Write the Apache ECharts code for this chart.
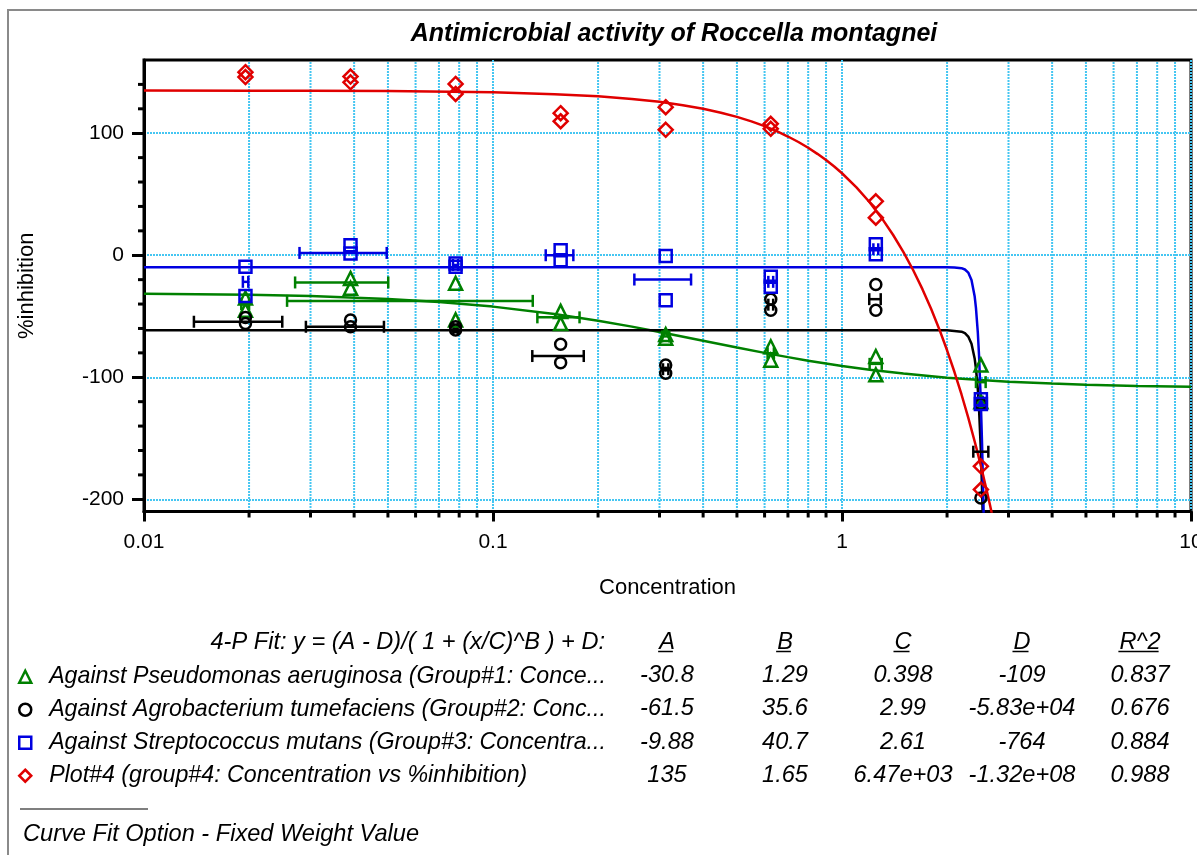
<!DOCTYPE html>
<html><head><meta charset="utf-8">
<script src="https://cdn.jsdelivr.net/npm/echarts@6/dist/echarts.min.js"></script>
<style>html,body{margin:0;padding:0;background:#fff}#c{width:1197px;height:855px}</style>
</head><body><div id="c"></div>
<script>
// ---------------- data ----------------
const concentrations = [0.01953, 0.03906, 0.07813, 0.15625, 0.3125, 0.625, 1.25, 2.5];
const pseudoRep1 = [-35, -19, -23, -46, -65, -75, -83, -90];
const pseudoRep2 = [-45, -27, -53, -56, -68, -86, -98, -120];
const agroRep1 = [-51, -53, -58.6, -73, -90, -36, -24, -122];
const agroRep2 = [-56, -58.6, -61.3, -88, -96.7, -45, -45, -199];
const strepRep1 = [-9.5, 8.2, -6.8, 4.1, -0.6, -17.7, 9, -118];
const strepRep2 = [-33.3, 1.4, -9.5, -4.1, -36.8, -25.9, 0.8, -122];
const plot4Rep1 = [150, 146.4, 140.4, 116.4, 121.3, 107.7, 44.2, -173];
const plot4Rep2 = [146, 141.7, 132.2, 109.8, 102.8, 103.6, 30.8, -192];

// horizontal error bars: [xLow, xHigh, y]
const pseudoErr = [[0.0190, 0.0200, -40], [0.0271, 0.0501, -22.3], [0.0257, 0.130, -37.4], [0.134, 0.177, -50.9],
  [0.305, 0.320, -66.5], [0.612, 0.638, -80.4], [1.20, 1.30, -89], [2.42, 2.58, -104]];
const agroErr = [[0.0139, 0.0249, -54.5], [0.0291, 0.0487, -58.6], [0.0770, 0.0792, -60], [0.1296, 0.182, -82.6],
  [0.307, 0.318, -93.4], [0.615, 0.635, -40.5], [1.197, 1.291, -36], [2.378, 2.626, -161]];
const strepErr = [[0.0192, 0.0199, -21.8], [0.0279, 0.0496, 1.9], [0.0768, 0.0794, -8], [0.1416, 0.1699, 0],
  [0.2541, 0.3694, -19.9], [0.615, 0.635, -21.8], [1.23, 1.27, 4.9], [2.47, 2.53, -120]];

// fitted curves
const fitPseudoX = [0.01, 0.02, 0.03, 0.05, 0.07, 0.1, 0.15, 0.2, 0.25, 0.3, 0.4, 0.5, 0.6, 0.7, 0.8, 1, 1.2, 1.5, 2, 2.5, 3, 4, 5, 7, 10];
const fitPseudoY = [-31.5, -32.4, -33.5, -35.8, -38.3, -42.1, -48.1, -53.6, -58.5, -62.9, -70.0, -75.6, -80.0, -83.5, -86.4, -90.7, -93.8, -97.0, -100.3, -102.3, -103.6, -105.2, -106.1, -107.1, -107.8];
const fitAgroX = [0.01, 1, 2, 2.2, 2.25, 2.3, 2.35, 2.4, 2.42, 2.45, 2.47, 2.5, 2.52, 2.53];
const fitAgroY = [-61.5, -61.5, -61.5, -62.6, -63.8, -66.6, -72.5, -84.8, -92.8, -109.9, -126.1, -160.9, -193.5, -213];
const fitStrepX = [0.01, 1, 2, 2.1, 2.2, 2.25, 2.3, 2.35, 2.4, 2.42, 2.45, 2.47, 2.5, 2.52, 2.54, 2.56];
const fitStrepY = [-9.9, -9.9, -9.9, -10.0, -10.6, -11.7, -14.2, -20.3, -33.9, -43.1, -63.3, -82.2, -121.3, -155.7, -197.3, -245.6];
const fitPlot4X = [0.01, 0.02, 0.03, 0.05, 0.1, 0.15, 0.2, 0.25, 0.3, 0.35, 0.4, 0.45, 0.5, 0.55, 0.6, 0.65, 0.7, 0.75, 0.8, 0.85, 0.9, 0.95, 1.0, 1.1, 1.2, 1.3, 1.4, 1.5, 1.6, 1.7, 1.8, 1.9, 2.0, 2.1, 2.2, 2.3, 2.4, 2.45, 2.5, 2.55, 2.6, 2.65, 2.7];
const fitPlot4Y = [135, 134.9, 134.8, 134.5, 133.5, 132.0, 130.2, 128.1, 125.7, 123.0, 120.0, 116.8, 113.4, 109.7, 105.8, 101.7, 97.3, 92.8, 88.1, 83.1, 78.0, 72.7, 67.2, 55.6, 43.4, 30.4, 16.8, 2.6, -12.3, -27.8, -43.9, -60.6, -77.9, -95.7, -114.1, -133.1, -152.6, -162.6, -172.6, -182.9, -193.2, -203.7, -214.3];

// axes / ticks
const xMin = 0.01, xMax = 10, yMin = -210, yMax = 160;
const xMinorTicks = [0.02, 0.03, 0.04, 0.05, 0.06, 0.07, 0.08, 0.09, 0.2, 0.3, 0.4, 0.5, 0.6, 0.7, 0.8, 0.9, 2, 3, 4, 5, 6, 7, 8, 9];
const yMajorTicks = [-200, -100, 0, 100];
const yMinorTicks = [-180, -160, -140, -120, -80, -60, -40, -20, 20, 40, 60, 80, 120, 140];

// table
const titleText = 'Antimicrobial activity of Roccella montagnei';
const fitLabel = '4-P Fit: y = (A - D)/( 1 + (x/C)^B ) + D:';
const tableHeaders = ['A', 'B', 'C', 'D', 'R^2'];
const rowNames = [
  'Against Pseudomonas aeruginosa (Group#1: Conce...',
  'Against Agrobacterium tumefaciens (Group#2: Conc...',
  'Against Streptococcus mutans (Group#3: Concentra...',
  'Plot#4 (group#4: Concentration vs %inhibition)'
];
const paramA = ['-30.8', '-61.5', '-9.88', '135'];
const paramB = ['1.29', '35.6', '40.7', '1.65'];
const paramC = ['0.398', '2.99', '2.61', '6.47e+03'];
const paramD = ['-109', '-5.83e+04', '-764', '-1.32e+08'];
const paramR2 = ['0.837', '0.676', '0.884', '0.988'];
const footText = 'Curve Fit Option - Fixed Weight Value';

// ---------------- styles ----------------
const FONT = 'Liberation Sans, Arial, sans-serif';
const GRIDC = '#45c6f2';
const colors = ['#008000', '#000000', '#0000e0', '#e00000'];
const symbols = ['triangle', 'circle', 'rect', 'diamond'];
const symbolSizes = [13, 11, 12, 14];

const groups = [
  {rep1: pseudoRep1, rep2: pseudoRep2, err: pseudoErr, fx: fitPseudoX, fy: fitPseudoY},
  {rep1: agroRep1, rep2: agroRep2, err: agroErr, fx: fitAgroX, fy: fitAgroY},
  {rep1: strepRep1, rep2: strepRep2, err: strepErr, fx: fitStrepX, fy: fitStrepY},
  {rep1: plot4Rep1, rep2: plot4Rep2, err: null, fx: fitPlot4X, fy: fitPlot4Y}
];

function errRender(color) {
  return function (params, api) {
    const y = api.value(2);
    const a = api.coord([api.value(0), y]);
    const b = api.coord([api.value(1), y]);
    const h = 6, st = {stroke: color, lineWidth: 2.5};
    return {type: 'group', children: [
      {type: 'line', shape: {x1: a[0], y1: a[1], x2: b[0], y2: b[1]}, style: st},
      {type: 'line', shape: {x1: a[0], y1: a[1] - h, x2: a[0], y2: a[1] + h}, style: st},
      {type: 'line', shape: {x1: b[0], y1: b[1] - h, x2: b[0], y2: b[1] + h}, style: st}
    ]};
  };
}

const series = [];
// minor vertical grid lines + minor x ticks
series.push({
  type: 'custom', name: 'xminor', silent: true, clip: false, z: 1,
  data: xMinorTicks.map(v => [v, yMin]),
  encode: {x: 0, y: 1},
  renderItem: function (params, api) {
    const x = api.value(0);
    const t = api.coord([x, yMax]);
    const b = api.coord([x, yMin]);
    return {type: 'group', children: [
      {type: 'line', shape: {x1: t[0], y1: t[1] + 2, x2: b[0], y2: b[1] - 2}, style: {stroke: GRIDC, lineWidth: 2, lineDash: [2, 1]}},
      {type: 'line', shape: {x1: b[0], y1: b[1], x2: b[0], y2: b[1] + 6}, style: {stroke: '#000', lineWidth: 3}}
    ]};
  }
});
// minor y ticks
series.push({
  type: 'custom', name: 'yminor', silent: true, clip: false, z: 1,
  data: yMinorTicks.map(v => [xMin, v]),
  encode: {x: 0, y: 1},
  renderItem: function (params, api) {
    const p = api.coord([api.value(0), api.value(1)]);
    return {type: 'line', shape: {x1: p[0] - 6, y1: p[1], x2: p[0], y2: p[1]}, style: {stroke: '#000', lineWidth: 3}};
  }
});

groups.forEach((g, i) => {
  series.push({
    type: 'line', name: 'fit' + (i + 1), silent: true,
    data: g.fx.map((x, k) => [x, g.fy[k]]),
    symbol: 'none', smooth: false, clip: true, z: 2,
    lineStyle: {color: colors[i], width: 2.5}
  });
  const pts = [];
  concentrations.forEach((c, k) => { pts.push([c, g.rep1[k]]); pts.push([c, g.rep2[k]]); });
  series.push({
    type: 'scatter', name: rowNames[i], data: pts, symbol: symbols[i],
    symbolSize: symbolSizes[i], z: 3,
    itemStyle: {color: 'rgba(0,0,0,0)', borderColor: colors[i], borderWidth: 2.5, opacity: 1}
  });
  if (g.err) {
    series.push({
      type: 'custom', name: 'err' + (i + 1), silent: true, clip: false, z: 3,
      data: g.err, encode: {x: [0, 1], y: 2}, renderItem: errRender(colors[i])
    });
  }
});

// ---------------- table graphics ----------------
const graphics = [];
graphics.push({type: 'rect', shape: {x: 8, y: 10, width: 1400, height: 1000}, style: {fill: 'none', stroke: '#8a8a8a', lineWidth: 2}, silent: true});
graphics.push({type: 'text', x: 674, y: 34, style: {text: titleText, font: 'italic bold 25px ' + FONT, fill: '#000', align: 'center', verticalAlign: 'middle'}});

const TSIZE = 23.6;
const LSIZE = 23.2;
const tfont = 'italic ' + TSIZE + 'px ' + FONT;
const colX = [667, 785, 903, 1022, 1140];
const headY = 642;
const rowY = [675, 708.5, 742, 775];
const meas = document.createElement('canvas').getContext('2d');
meas.font = 'italic ' + TSIZE + 'px "Liberation Sans"';
graphics.push({type: 'text', x: 605, y: headY, style: {text: fitLabel, font: tfont, fill: '#000', align: 'right', verticalAlign: 'middle'}});
tableHeaders.forEach((h, j) => {
  graphics.push({type: 'text', x: colX[j], y: headY, style: {text: h, font: tfont, fill: '#000', align: 'center', verticalAlign: 'middle'}});
  const w = meas.measureText(h).width;
  graphics.push({type: 'line', shape: {x1: colX[j] - w / 2 - 1, y1: headY + 9.5, x2: colX[j] + w / 2 - 2, y2: headY + 9.5}, style: {stroke: '#000', lineWidth: 1.5}});
});
const cols = [paramA, paramB, paramC, paramD, paramR2];
rowY.forEach((y, r) => {
  cols.forEach((col, j) => {
    graphics.push({type: 'text', x: colX[j], y: y, style: {text: col[r], font: tfont, fill: '#000', align: 'center', verticalAlign: 'middle'}});
  });
});
graphics.push({type: 'line', shape: {x1: 20, y1: 809, x2: 148, y2: 809}, style: {stroke: '#000', lineWidth: 1.2}});
graphics.push({type: 'text', x: 23, y: 834, style: {text: footText, font: tfont, fill: '#000', align: 'left', verticalAlign: 'middle'}});

// ---------------- chart ----------------
const chart = echarts.init(document.getElementById('c'), null, {renderer: 'canvas'});
chart.setOption({
  animation: false,
  backgroundColor: '#fff',
  grid: {left: 144, top: 60, right: 6, bottom: 343.5, containLabel: false, outerBoundsMode: 'none',
    show: true, borderColor: '#000', borderWidth: 3, backgroundColor: 'transparent'},
  legend: {
    show: true, orient: 'vertical', left: 18, top: 665, itemGap: 9.5, itemWidth: 12, itemHeight: 12, padding: 0,
    selectedMode: false, data: rowNames, formatter: n => '  ' + n,
    textStyle: {fontFamily: FONT, fontSize: LSIZE, fontStyle: 'italic', color: '#000', lineHeight: 23.5},
    itemStyle: {borderWidth: 2.5}
  },
  xAxis: {
    type: 'log', logBase: 10, min: xMin, max: xMax,
    name: 'Concentration', nameLocation: 'middle', nameGap: 65,
    nameTextStyle: {fontFamily: FONT, fontSize: 22, color: '#000'},
    axisLine: {show: true, onZero: false, lineStyle: {color: '#000', width: 3}},
    axisTick: {show: true, inside: false, length: 10, lineStyle: {color: '#000', width: 3}},
    axisLabel: {show: true, margin: 20, fontFamily: FONT, fontSize: 21, color: '#000', showMinLabel: true, showMaxLabel: true},
    splitLine: {show: true, lineStyle: {color: GRIDC, width: 2, type: [2, 1]}},
    minorTick: {show: false}, minorSplitLine: {show: false}
  },
  yAxis: {
    type: 'value', min: yMin, max: yMax,
    name: '%inhibition', nameLocation: 'middle', nameGap: 106, nameRotate: 90,
    nameTextStyle: {fontFamily: FONT, fontSize: 22, color: '#000'},
    axisLine: {show: true, onZero: false, lineStyle: {color: '#000', width: 3}},
    axisTick: {show: true, inside: false, length: 12, customValues: yMajorTicks, lineStyle: {color: '#000', width: 3}},
    axisLabel: {show: true, margin: 20, fontFamily: FONT, fontSize: 21, color: '#000', customValues: yMajorTicks},
    splitLine: {show: true, lineStyle: {color: GRIDC, width: 2, type: [2, 1]}}
  },
  graphic: graphics,
  series: series
});
</script></body></html>
